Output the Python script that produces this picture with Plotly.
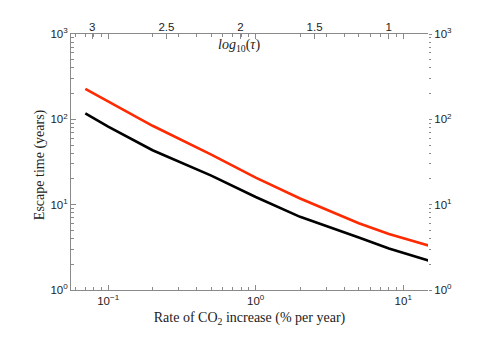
import plotly.graph_objects as go

# Data
rate = [0.07, 0.1, 0.2, 0.5, 1, 2, 5, 8, 15]              # % per year
escape_black = [117.8, 82.2, 43.4, 21.9, 12.3, 7.2, 4.13, 3.07, 2.20]
escape_red = [227, 161, 84.0, 38.6, 20.7, 11.8, 6.07, 4.52, 3.31]

x_tick_vals = [0.1, 1, 10]
x_tick_text = ["10<sup>\u22121</sup>", "10<sup>0</sup>", "10<sup>1</sup>"]
y_tick_vals = [1, 10, 100, 1000]
y_tick_text = ["10<sup>0</sup>", "10<sup>1</sup>", "10<sup>2</sup>", "10<sup>3</sup>"]
top_tick_vals = [3, 2.5, 2, 1.5, 1]
top_tick_text = ["3", "2.5", "2", "1.5", "1"]

x_minor = [m * 10 ** e for e in (-2, -1, 0, 1) for m in range(2, 10)]
y_minor = [m * 10 ** e for e in (0, 1, 2) for m in range(2, 10)]

AX = "#8a8a8a"
tickfont = dict(family="Liberation Sans, Arial, sans-serif", size=11.5, color="#222")
serif = "Liberation Serif, Times New Roman, serif"

fig = go.Figure()
fig.add_trace(go.Scatter(x=rate, y=escape_black, mode="lines",
                         line=dict(color="black", width=2.6), showlegend=False))
fig.add_trace(go.Scatter(x=rate, y=escape_red, mode="lines",
                         line=dict(color="#ff2a00", width=2.6), showlegend=False))
# empty traces so the secondary axes render
fig.add_trace(go.Scatter(x=[None], y=[None], xaxis="x2", yaxis="y", showlegend=False))
fig.add_trace(go.Scatter(x=[None], y=[None], xaxis="x", yaxis="y2", showlegend=False))

fig.update_layout(
    width=485, height=342,
    margin=dict(l=63, r=65, t=26, b=60, autoexpand=False),
    paper_bgcolor="white", plot_bgcolor="white",
    showlegend=False,
    xaxis=dict(
        type="log", range=[-1.252, 1.168],
        showline=True, linecolor=AX, linewidth=1, mirror="ticks",
        ticks="inside", ticklen=5, tickcolor=AX,
        tickmode="array", tickvals=x_tick_vals, ticktext=x_tick_text,
        showgrid=False, zeroline=False, tickfont=tickfont,
        minor=dict(tickmode="array", tickvals=x_minor, ticks="inside",
                   ticklen=3, tickcolor=AX, showgrid=False),
        title=dict(text="Rate of CO<sub>2</sub> increase (% per year)",
                   font=dict(family=serif, size=14, color="#222"), standoff=6),
        automargin=False,
    ),
    xaxis2=dict(
        overlaying="x", side="top", range=[3.1435, 0.735],
        tickmode="array", tickvals=top_tick_vals, ticktext=top_tick_text,
        ticks="inside", ticklen=5, tickcolor=AX, showline=False,
        showgrid=False, zeroline=False, tickfont=tickfont, automargin=False,
    ),
    yaxis=dict(
        type="log", range=[0, 3],
        showline=True, linecolor=AX, linewidth=1,
        ticks="inside", ticklen=5, tickcolor=AX,
        tickmode="array", tickvals=y_tick_vals, ticktext=y_tick_text,
        showgrid=False, zeroline=False, tickfont=tickfont,
        minor=dict(tickmode="array", tickvals=y_minor, ticks="inside",
                   ticklen=3, tickcolor=AX, showgrid=False),
        automargin=False,
    ),
    yaxis2=dict(
        type="log", range=[0, 3], overlaying="y", side="right",
        showline=False, ticks="outside", ticklen=3, tickcolor=AX,
        tickmode="array", tickvals=y_tick_vals, ticktext=y_tick_text,
        showgrid=False, zeroline=False, tickfont=tickfont,
        minor=dict(tickmode="array", tickvals=y_minor, ticks="outside",
                   ticklen=2, tickcolor=AX, showgrid=False),
        automargin=False,
    ),
    annotations=[
        dict(text="<i>log</i><sub>10</sub>(<i>τ</i>)", xref="paper", yref="paper",
             x=0.47, y=0.955, xanchor="center", yanchor="middle", showarrow=False,
             font=dict(family=serif, size=14, color="#222")),
        dict(text="Escape time (years)", xref="paper", yref="paper",
             x=-0.088, y=0.49, xanchor="center", yanchor="middle", showarrow=False,
             textangle=-90, font=dict(family=serif, size=14, color="#222")),
    ],
)

fig.write_html("out.html")
